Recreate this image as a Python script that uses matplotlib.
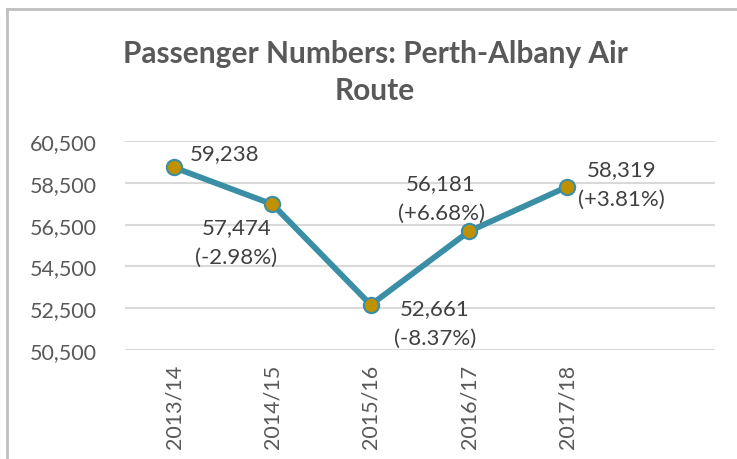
import numpy as np
import matplotlib
matplotlib.use("Agg")
import matplotlib.pyplot as plt
from matplotlib.lines import Line2D

years = ["2013/14", "2014/15", "2015/16", "2016/17", "2017/18"]
passengers = [59238, 57474, 52661, 56181, 58319]
changes = [None, "-2.98%", "-8.37%", "+6.68%", "+3.81%"]

# label offsets (pixels) for each point
offsets = [(16, 14), (-36, -38), (64, -18), (-28, 33), (54, 3)]

plt.rcParams['font.family'] = ['Lato', 'DejaVu Sans']

fig = plt.figure(figsize=(7.37, 4.6), dpi=100)
ax = fig.add_axes([0.1696, 0.237, 0.8004, 0.454])

x = np.arange(len(years))
ax.plot(x, passengers, color='#3A8FA6', lw=4.2, marker='o', ms=11,
        mfc='#BF9000', mec='#3A8FA6', mew=1.5, zorder=3, solid_capstyle='round')

for i, (v, c) in enumerate(zip(passengers, changes)):
    txt = f"{v:,}" if c is None else f"{v:,}\n({c})"
    ax.annotate(txt, (x[i], v), xytext=offsets[i], textcoords='offset pixels',
                ha='center' if c else 'left', va='center', fontsize=16,
                color='#404040', linespacing=1.6)

ax.set_xlim(-0.5, 5.5)
ax.set_ylim(50500, 60500)
ax.set_yticks(np.arange(50500, 60501, 2000))
ax.yaxis.set_major_formatter(matplotlib.ticker.FuncFormatter(lambda v, p: f"{int(v):,}"))
ax.set_xticks(x)
ax.set_xticklabels(years, rotation=90)
ax.tick_params(axis='both', length=0, labelsize=15.5, labelcolor='#595959')
ax.tick_params(axis='y', pad=20)
ax.tick_params(axis='x', pad=10)
ax.grid(axis='y', color='#D9D9D9', lw=1.5)
ax.set_axisbelow(True)
for s in ax.spines.values():
    s.set_visible(False)

fig.text(0.509, 0.843, "Passenger Numbers: Perth-Albany Air\nRoute", ha='center', va='center',
         fontsize=21.5, fontweight='bold', color='#595959', linespacing=1.4)

# chart border (top and left edges visible)
fig.add_artist(Line2D([7/737, 7/737], [0, 1 - 10/460], color='#BFBFBF', lw=2,
                      transform=fig.transFigure))
fig.add_artist(Line2D([7/737, 1], [1 - 10/460, 1 - 10/460], color='#BFBFBF', lw=2,
                      transform=fig.transFigure))

fig.savefig("out.png", dpi=100)
